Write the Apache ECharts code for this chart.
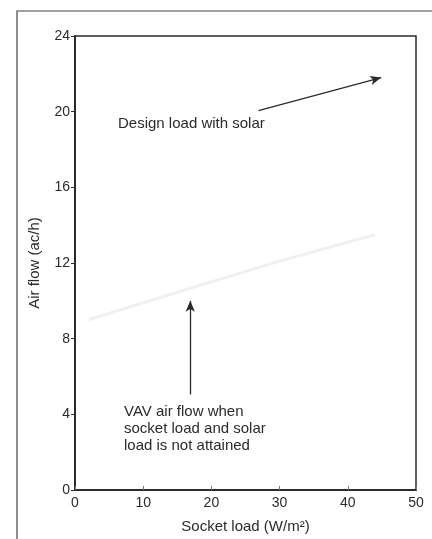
<!DOCTYPE html>
<html>
<head>
<meta charset="utf-8">
<script src="https://cdn.jsdelivr.net/npm/echarts@6/dist/echarts.min.js"></script>
<style>
  html, body { margin: 0; padding: 0; background: #fff; }
  #chart { width: 432px; height: 539px; }
</style>
</head>
<body>
<div id="chart"></div>
<script>
// socket load (W/m2) and the faint VAV air flow trace (ac/h)
const socketLoad = [2, 10, 20, 30, 44]
const vavFlow    = [9.0, 9.9, 11.0, 12.1, 13.5]
const xTicks = [0, 10, 20, 30, 40, 50]
const yTicks = [0, 4, 8, 12, 16, 20, 24]

const ink = '#2b2b2b'
const font = 'Liberation Sans, Arial, sans-serif'

const chart = echarts.init(document.getElementById('chart'))
chart.setOption({
  animation: false,
  backgroundColor: '#fff',
  grid: { left: 75, right: 16, top: 36, bottom: 47, show: true, borderColor: ink, borderWidth: 1.5 },
  xAxis: {
    type: 'value', min: xTicks[0], max: xTicks[xTicks.length - 1], interval: 10,
    name: 'Socket load (W/m²)', nameLocation: 'middle', nameGap: 29,
    nameTextStyle: { color: ink, fontSize: 15, fontFamily: font },
    axisLine: { lineStyle: { color: ink, width: 2 } },
    axisTick: { inside: true, length: 4, lineStyle: { color: '#777' } },
    axisLabel: { color: ink, fontSize: 14, fontFamily: font, margin: 6 },
    splitLine: { show: false },
  },
  yAxis: {
    type: 'value', min: yTicks[0], max: yTicks[yTicks.length - 1], interval: 4,
    name: 'Air flow (ac/h)', nameLocation: 'middle', nameGap: 33,
    nameTextStyle: { color: ink, fontSize: 15, fontFamily: font },
    axisLine: { lineStyle: { color: ink, width: 2 } },
    axisTick: { length: 4, lineStyle: { color: ink } },
    axisLabel: { color: ink, fontSize: 14, fontFamily: font, margin: 5 },
    splitLine: { show: false },
  },
  series: [{
    type: 'line',
    data: socketLoad.map((x, i) => [x, vavFlow[i]]),
    showSymbol: false,
    lineStyle: { color: '#f0f0f0', width: 3 },
    markLine: {
      silent: true,
      symbol: ['none', 'arrow'],
      symbolSize: [7, 11],
      label: { show: false },
      lineStyle: { color: ink, width: 1.3, type: 'solid' },
      data: [
        [{ coord: [26.9, 20.05] }, { coord: [44.9, 21.8] }],
        [{ coord: [16.9, 5.05] }, { coord: [16.9, 10.0] }],
      ],
    },
  }],
  graphic: [
    { type: 'rect', silent: true, shape: { x: 17, y: 11, width: 430, height: 540 },
      style: { fill: 'none', stroke: '#444', lineWidth: 1.2 } },
    { type: 'text', left: 118, top: 116,
      style: { text: 'Design load with solar', fill: ink, font: '15px ' + font } },
    { type: 'text', left: 124, top: 403,
      style: { text: 'VAV air flow when\nsocket load and solar\nload is not attained', fill: ink,
               font: '15px ' + font, lineHeight: 17 } },
  ],
})
</script>
</body>
</html>
